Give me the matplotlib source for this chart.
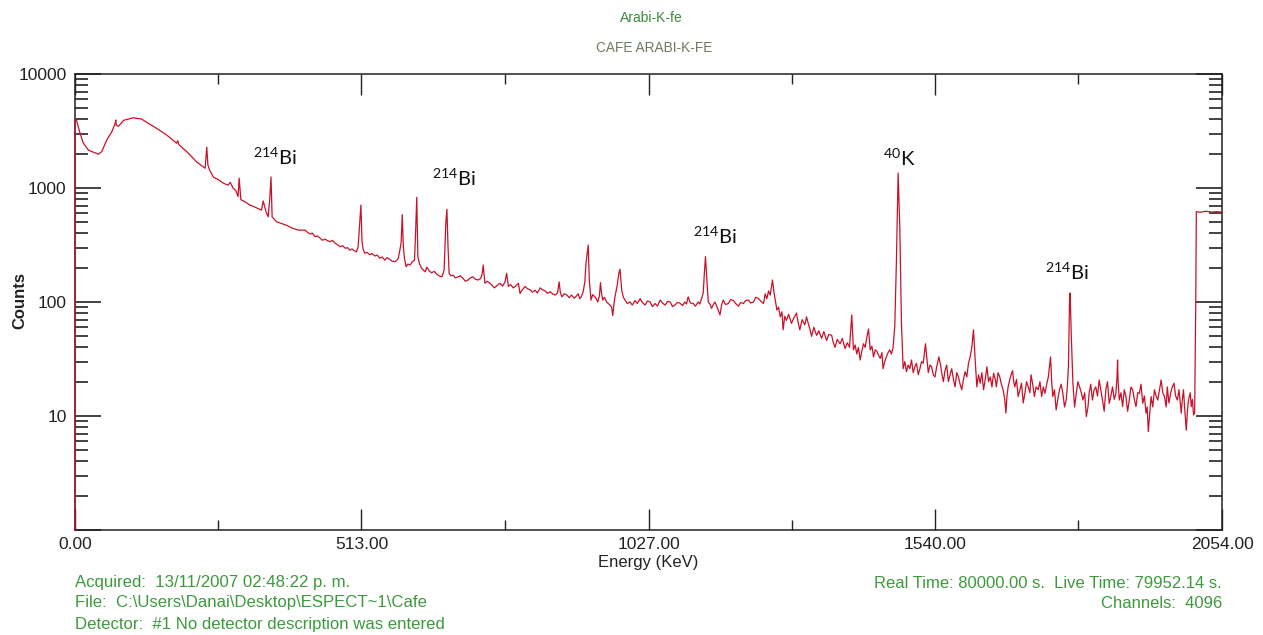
import numpy as np
import matplotlib
matplotlib.use("Agg")
import matplotlib.pyplot as plt
from matplotlib.ticker import FixedLocator, FuncFormatter, LogLocator, NullFormatter

plt.rcParams['font.family'] = ['Liberation Sans', 'DejaVu Sans']
plt.rcParams['mathtext.fontset'] = 'custom'
plt.rcParams['mathtext.rm'] = 'Lato'

# gamma spectrum, energy (keV) vs counts per channel -- up to the Compton edge
energy_low = [
    0, 0, 3, 9, 15, 24, 33, 42, 48, 57, 66, 72, 73, 74, 78, 87, 104, 119, 131, 146,
    164, 182, 184, 186, 200, 218, 233, 236, 238, 241, 248, 256, 266, 274, 278, 283,
    288, 292, 294, 297, 304, 313, 322, 334, 337, 342, 346, 349, 351, 353, 361, 369,
    379, 389, 400,
    412, 416, 421, 425, 430, 434, 439, 443, 448, 452, 457, 461, 466, 470, 475, 479,
    484, 488, 492, 496, 501, 504, 507, 512, 514, 516, 519, 523, 528, 532, 537, 541,
    546, 550, 555, 559, 564, 568, 573, 576, 579, 584, 586, 588, 590, 593, 596, 600,
    604, 608, 610, 612, 614, 617, 621, 624, 627, 630, 634, 639, 643, 648, 652, 657,
    661, 664, 666, 668, 670, 673, 677, 681, 686, 690, 695, 699, 704, 708, 713, 717,
    722, 726, 729, 731, 734, 738, 743, 747, 751, 756, 761, 766, 770, 773, 776, 780,
    785, 789, 794, 797, 801, 806, 810, 815,
    819, 824, 828, 833, 837, 842, 846, 851, 855, 860, 864, 867, 869, 872, 876, 881,
    885, 889, 894, 898, 901, 904, 907, 910, 913, 915, 919, 921, 924, 927, 931, 934,
    936, 939, 941, 943, 945, 948, 952, 955, 958, 961, 963, 965, 967, 971, 974, 976,
    979, 982, 985, 989, 994, 998, 1003, 1007, 1012, 1016, 1021, 1025, 1030, 1034,
    1039, 1043, 1048, 1052, 1057, 1061, 1066, 1070, 1074, 1079, 1083, 1088, 1092,
    1095, 1098, 1102, 1107, 1111, 1116, 1119, 1122, 1125, 1127, 1129, 1132, 1134,
    1137, 1140, 1143, 1146, 1150, 1155, 1158, 1161, 1165, 1170, 1174, 1179, 1183,
    1188, 1192, 1197, 1201, 1206, 1210, 1215, 1219, 1224, 1228,
    1233, 1236, 1239, 1242, 1245, 1249,
]
counts_low = [
    1, 4030, 3900, 3020, 2470, 2150, 2060, 1980, 2090, 2640, 3120, 3700, 3950, 3550,
    3480, 3920, 4130, 4030, 3700, 3340, 2920, 2470, 2600, 2400, 2090, 1690, 1490,
    2280, 1590, 1440, 1240, 1190, 1100, 1060, 1120, 1000, 950, 840, 1220, 790, 760,
    710, 680, 640, 770, 620, 558, 840, 1250, 558, 505, 490, 470, 445, 427,
    427, 410, 395, 402, 374, 380, 363, 348, 356, 345, 339, 347, 328, 318, 305, 312,
    296, 300, 285, 292, 280, 275, 305, 708, 339, 290, 268, 272, 260, 266, 253, 258,
    242, 248, 233, 245, 236, 228, 226, 232, 242, 328, 583, 305, 240, 204, 215, 211,
    225, 233, 420, 829, 250, 215, 197, 190, 184, 202, 188, 180, 186, 175, 170, 166,
    190, 491, 651, 305, 178, 170, 172, 163, 166, 170, 161, 152, 156, 163, 166, 158,
    156, 160, 175, 211, 146, 152, 146, 140, 133, 140, 146, 138, 150, 178, 137, 142,
    133, 138, 146, 119, 128, 137, 131, 128,
    122, 127, 120, 133, 128, 125, 119, 123, 118, 115, 120, 150, 122, 111, 118, 115,
    109, 115, 108, 113, 118, 107, 112, 123, 150, 218, 316, 156, 104, 116, 111, 106,
    100, 112, 148, 118, 104, 110, 100, 97, 94, 90, 76, 95, 111, 141, 180, 194,
    127, 110, 104, 97, 100, 94, 103, 97, 107, 99, 94, 102, 100, 91,
    97, 92, 104, 98, 94, 101, 100, 91, 94, 99, 98, 93, 100,
    96, 111, 98, 97, 92, 100, 96, 107, 120, 178, 250, 146, 100,
    96, 88, 95, 100, 90, 77, 95, 104, 95, 97, 105, 103, 97,
    92, 99, 97, 103, 104, 98, 100, 110, 107, 102,
    97, 118, 107, 125, 115, 156,
]

# above the Compton edge: K-40 line, 214Bi 1764 and the overflow channels
energy_high = [
    1252, 1255, 1257, 1260, 1263, 1266, 1268, 1271, 1274, 1278, 1283, 1287, 1292,
    1295, 1298, 1302, 1307, 1310, 1313, 1316, 1319, 1323, 1328, 1332, 1337, 1341,
    1346, 1350, 1355, 1358, 1361, 1365, 1370, 1374, 1379, 1383, 1387, 1389, 1391,
    1394, 1397, 1400, 1403, 1406, 1409, 1412, 1415, 1417, 1419, 1421, 1424, 1427,
    1430, 1433, 1436, 1439, 1442, 1445, 1447, 1450, 1453, 1456, 1459, 1462, 1465,
    1468, 1471, 1474, 1477, 1480, 1483, 1486, 1489, 1492, 1495, 1498, 1501, 1504,
    1507, 1510, 1513, 1516, 1519, 1521, 1523, 1526, 1528, 1531, 1534, 1537, 1540,
    1543, 1547, 1550, 1552, 1555, 1558, 1561, 1564, 1567, 1570, 1573, 1576, 1579,
    1582, 1585, 1588, 1591, 1594, 1597, 1600, 1603, 1606, 1609, 1612, 1615, 1618,
    1621, 1624, 1627, 1630, 1633, 1636, 1639, 1642, 1645, 1648, 1650, 1653, 1656,
    1659, 1662, 1665, 1667, 1669, 1671, 1675, 1679, 1681, 1683, 1686, 1689, 1692,
    1695, 1698, 1701, 1704, 1707, 1710, 1712, 1715, 1718, 1721, 1725, 1728, 1731,
    1734, 1737, 1740, 1743, 1745, 1747, 1749, 1751, 1754, 1757, 1760, 1763, 1766,
    1769, 1772, 1775, 1777, 1779, 1781, 1782, 1784, 1787, 1790, 1793, 1796, 1799,
    1802, 1805, 1808, 1811, 1814, 1816, 1819, 1822, 1825, 1828, 1831, 1834, 1837,
    1840, 1843, 1846, 1849, 1852, 1855, 1858, 1861, 1864, 1866, 1867, 1868, 1870,
    1873, 1876, 1879, 1882, 1885, 1888, 1891, 1894, 1897, 1900, 1903, 1906, 1909,
    1912, 1915, 1918, 1920, 1922, 1925, 1927, 1930, 1933, 1936, 1939, 1942, 1945,
    1948, 1951, 1954, 1956, 1959, 1962, 1965, 1968, 1971, 1974, 1977, 1981, 1983,
    1985, 1987, 1990, 1992, 1994, 1997, 1999, 2001, 2003, 2005, 2007, 2008, 2015,
    2025, 2035, 2045, 2054,
]
counts_high = [
    119, 98, 85, 90, 74, 82, 57, 75, 69, 78, 65, 72, 80,
    66, 57, 70, 63, 74, 65, 58, 50, 60, 51, 56, 48, 55,
    46, 52, 51, 44, 40, 47, 43, 48, 39, 44, 40, 55, 77,
    38, 42, 35, 40, 31, 37, 43, 40, 46, 52, 58, 38, 41,
    33, 38, 37, 34, 32, 36, 26, 30, 33, 36, 38, 35, 40,
    61, 233, 1350, 458, 65, 26, 30, 24.5, 28, 26, 31, 24, 27,
    29, 23, 26, 30, 29, 35, 43, 30, 24, 28, 27, 23, 22,
    27, 33, 28, 24, 20, 25, 28, 20, 23, 26, 21, 18, 24,
    22, 19, 17, 21, 24.5, 22, 29, 33, 40, 57, 31, 18, 23,
    19.4, 24, 17, 21, 27, 20, 22, 18, 23.7, 21, 18, 24, 22,
    19, 17, 14, 10.6, 15, 18, 22, 25, 20, 18, 21, 14.8, 17,
    19.4, 13, 15.8, 20, 18, 16, 23, 19, 14.8, 18, 17, 20, 14.8,
    18, 15.8, 19, 22, 27, 33, 20, 14.8, 17, 11.3, 14, 17, 19,
    15.8, 12, 13.8, 18, 27, 104, 120, 53, 19.4, 12, 15.8, 20, 18,
    16, 13.8, 16, 9.9, 12, 15.8, 19, 13.8, 17, 18, 15, 20.7, 17,
    13.8, 11, 17, 20, 12.9, 15, 18, 14, 15.8, 22, 31, 20, 13.8,
    16, 12.1, 17, 14.8, 11, 13.8, 18, 17, 14, 12.1, 16, 15.8, 19,
    12.9, 15, 10.6, 12, 7.3, 11, 14.8, 12, 17, 15, 13.8, 17, 20.7,
    16, 14.8, 12, 18, 13, 15.8, 18, 19.4, 15, 13.8, 17, 10.6, 14,
    17, 12, 7.5, 11, 13.8, 16, 12.1, 14, 10.2, 10.6, 100, 620, 612,
    625, 615, 620, 615,
]

# nuclide labels: (energy, counts, mass number, symbol)
peak_labels = [
    (319, 1870, '214', 'Bi'),
    (639, 1224, '214', 'Bi'),
    (1107, 379, '214', 'Bi'),
    (1447, 1833, '40', 'K'),
    (1737, 183, '214', 'Bi'),
]

x_major = [0.0, 513.0, 1027.0, 1540.0, 2054.0]
x_minor = [256.5, 770.0, 1283.5, 1797.0]

energy = energy_low + energy_high
spectrum = counts_low + counts_high

fig = plt.figure(figsize=(12.63, 6.35), dpi=100)
ax = fig.add_axes([75 / 1263, 1 - 530 / 635, 1147 / 1263, 456 / 635])

ax.plot(energy, spectrum, color='#c8122a', lw=0.9, zorder=3, clip_on=False)

ax.set_yscale('log')
ax.set_xlim(0, 2054)
ax.set_ylim(1, 10000)

ax.xaxis.set_major_locator(FixedLocator(x_major))
ax.xaxis.set_minor_locator(FixedLocator(x_minor))
ax.xaxis.set_major_formatter(FuncFormatter(lambda v, p: '%.2f' % v))
ax.yaxis.set_major_locator(LogLocator(base=10, numticks=10))
ax.yaxis.set_minor_locator(LogLocator(base=10, subs=np.arange(2, 10), numticks=10))
ax.yaxis.set_major_formatter(FuncFormatter(lambda v, p: '' if v < 5 else '%d' % round(v)))
ax.yaxis.set_minor_formatter(NullFormatter())

ax.tick_params(axis='x', which='major', direction='in', top=True, bottom=True,
               length=15, width=1, labelsize=12.5, pad=5, color='#222222')
ax.tick_params(axis='x', which='minor', direction='in', top=True, bottom=True,
               length=7.5, width=1, color='#222222')
ax.tick_params(axis='y', which='major', direction='in', left=True, right=True,
               length=19, width=1.2, labelsize=12.5, pad=6, color='#222222')
ax.tick_params(axis='y', which='minor', direction='in', left=True, right=True,
               length=9.5, width=1.2, color='#222222')
for lab in ax.get_xticklabels() + ax.get_yticklabels():
    lab.set_color('#222222')
for sp in ax.spines.values():
    sp.set_color('#222222')
    sp.set_linewidth(1.1)

for e, c, mass, sym in peak_labels:
    ax.text(e, c, r'$^{%s}$' % mass + sym, fontsize=14.5, family='Lato',
            color='#111111', ha='left', va='center', zorder=4)

fig.text(651 / 1263, 1 - 18 / 635, 'Arabi-K-fe', color='#3b8a3b', fontsize=10,
         ha='center', va='center')
fig.text(654 / 1263, 1 - 48 / 635, 'CAFE ARABI-K-FE', color='#6e7a5e', fontsize=9.8,
         ha='center', va='center')
fig.text(0.513, 1 - 562 / 635, 'Energy (KeV)', color='#222222', fontsize=12,
         ha='center', va='center')
fig.text(20 / 1263, 1 - 300 / 635, 'Counts', color='#222222', fontsize=12,
         fontweight='bold', rotation=90, ha='center', va='center')

green = '#3c9a3c'
fig.text(75 / 1263, 1 - 583 / 635, 'Acquired:  13/11/2007 02:48:22 p. m.',
         color=green, fontsize=12.1, ha='left', va='center')
fig.text(75 / 1263, 1 - 603 / 635, 'File:  C:\\Users\\Danai\\Desktop\\ESPECT~1\\Cafe',
         color=green, fontsize=12.1, ha='left', va='center')
fig.text(75 / 1263, 1 - 624 / 635, 'Detector:  #1 No detector description was entered',
         color=green, fontsize=12.1, ha='left', va='center')
fig.text(1222 / 1263, 1 - 583 / 635, 'Real Time: 80000.00 s.  Live Time: 79952.14 s.',
         color=green, fontsize=12, ha='right', va='center')
fig.text(1222 / 1263, 1 - 603 / 635, 'Channels:  4096',
         color=green, fontsize=12, ha='right', va='center')

fig.savefig('out.png', dpi=100)
